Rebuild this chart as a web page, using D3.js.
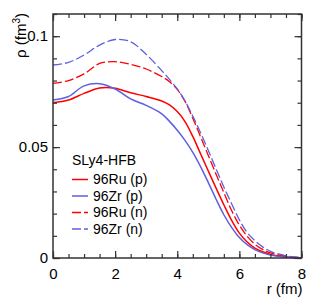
<!DOCTYPE html>
<html>
<head>
<meta charset="utf-8">
<script src="https://cdn.jsdelivr.net/npm/d3@7"></script>
<style>
  body { margin: 0; background: #fff; }
  text { font-family: "Liberation Sans", Arial, sans-serif; fill: #000; }
</style>
</head>
<body>
<script>
// radius grid (fm) and densities (fm^-3)
var radius = [0, 0.5, 1, 1.5, 2, 2.5, 3, 3.5, 3.75, 4, 4.25, 4.5, 4.75, 5, 5.25, 5.5, 5.75, 6, 6.25, 6.5, 6.75, 7, 7.5, 8];
var ruProton  = [0.0700, 0.0712, 0.0742, 0.0766, 0.0765, 0.0745, 0.0728, 0.0708, 0.0690, 0.0660, 0.0615, 0.0548, 0.0470, 0.0392, 0.0315, 0.0240, 0.0170, 0.0112, 0.0072, 0.0045, 0.0028, 0.0016, 0.0005, 0.0001];
var zrProton  = [0.0712, 0.0728, 0.0776, 0.0786, 0.0762, 0.0717, 0.0688, 0.0650, 0.0616, 0.0576, 0.0530, 0.0476, 0.0412, 0.0340, 0.0265, 0.0195, 0.0138, 0.0092, 0.0060, 0.0038, 0.0023, 0.0013, 0.0004, 0.0001];
var ruNeutron = [0.0787, 0.0800, 0.0830, 0.0877, 0.0885, 0.0873, 0.0852, 0.0818, 0.0795, 0.0760, 0.0706, 0.0630, 0.0547, 0.0462, 0.0378, 0.0295, 0.0214, 0.0148, 0.0098, 0.0062, 0.0039, 0.0023, 0.0008, 0.0002];
var zrNeutron = [0.0870, 0.0882, 0.0915, 0.0960, 0.0985, 0.0975, 0.0918, 0.0845, 0.0805, 0.0762, 0.0708, 0.0640, 0.0565, 0.0485, 0.0402, 0.0320, 0.0245, 0.0172, 0.0115, 0.0078, 0.0050, 0.0030, 0.0010, 0.0002];

var xMajor = [0, 2, 4, 6, 8];
var yMajor = [0, 0.05, 0.1];
var yLabels = ['0', '0.05', '0.1'];

var series = [
  { name: '96Ru (p)', values: ruProton,  color: '#ff0000', dash: null },
  { name: '96Zr (p)', values: zrProton,  color: '#5f5fe0', dash: null },
  { name: '96Ru (n)', values: ruNeutron, color: '#ff0000', dash: '9,3' },
  { name: '96Zr (n)', values: zrNeutron, color: '#5f5fe0', dash: '9,3' }
];

var width = 317;
var height = 304;
var plot = { left: 53, top: 14, right: 301.5, bottom: 258 };

var svg = d3.select('body')
            .append('svg')
            .attr('width', width)
            .attr('height', height);

var xScale = d3.scaleLinear()
               .domain([0, 8])
               .range([plot.left, plot.right]);

var yScale = d3.scaleLinear()
               .domain([0, 0.11])
               .range([plot.bottom, plot.top]);

var xMinor = d3.range(0, 8.01, 0.5);
var yMinor = d3.range(0, 0.1101, 0.01);

// curves
var line = d3.line()
             .x(function (d) { return xScale(d[0]); })
             .y(function (d) { return yScale(d[1]); })
             .curve(d3.curveCatmullRom.alpha(0.5));

svg.append('g')
   .selectAll('path')
   .data(series)
   .enter()
   .append('path')
   .attr('d', function (s) { return line(radius.map(function (r, i) { return [r, s.values[i]]; })); })
   .attr('fill', 'none')
   .attr('stroke', function (s) { return s.color; })
   .attr('stroke-width', function (s) { return s.dash ? 1.3 : 1.5; })
   .attr('stroke-dasharray', function (s) { return s.dash; });

// ticks on all four sides, pointing inward
function ticks(axis, transform) {
  var g = svg.append('g').attr('transform', transform).call(axis);
  g.select('.domain').remove();
  g.selectAll('line').attr('stroke', '#333').attr('stroke-width', 1.2);
  g.selectAll('text').attr('font-size', 15).attr('fill', '#000')
   .style('font-family', '"Liberation Sans", Arial, sans-serif');
  return g;
}

ticks(d3.axisBottom(xScale).tickValues(xMinor).tickSize(-4).tickFormat(''), `translate(0,${plot.bottom})`);
ticks(d3.axisBottom(xScale).tickValues(xMajor).tickSize(-7).tickPadding(10).tickFormat(d3.format('d')), `translate(0,${plot.bottom})`);
ticks(d3.axisTop(xScale).tickValues(xMinor).tickSize(-4).tickFormat(''), `translate(0,${plot.top})`);
ticks(d3.axisTop(xScale).tickValues(xMajor).tickSize(-7).tickFormat(''), `translate(0,${plot.top})`);

ticks(d3.axisLeft(yScale).tickValues(yMinor).tickSize(-4).tickFormat(''), `translate(${plot.left},0)`);
ticks(d3.axisLeft(yScale).tickValues(yMajor).tickSize(-7).tickPadding(5)
        .tickFormat(function (d, i) { return yLabels[i]; }), `translate(${plot.left},0)`);
ticks(d3.axisRight(yScale).tickValues(yMinor).tickSize(-4).tickFormat(''), `translate(${plot.right},0)`);
ticks(d3.axisRight(yScale).tickValues(yMajor).tickSize(-7).tickFormat(''), `translate(${plot.right},0)`);

svg.append('rect')
   .attr('x', plot.left)
   .attr('y', plot.top)
   .attr('width', plot.right - plot.left)
   .attr('height', plot.bottom - plot.top)
   .attr('fill', 'none')
   .attr('stroke', '#333')
   .attr('stroke-width', 1.5);

// axis titles
svg.append('text')
   .attr('x', plot.right + 1)
   .attr('y', 294)
   .attr('text-anchor', 'end')
   .attr('font-size', 15)
   .text('r (fm)');

var yTitle = svg.append('text')
   .attr('transform', `translate(26,${plot.top - 1}) rotate(-90)`)
   .attr('text-anchor', 'end')
   .attr('font-size', 15);
yTitle.append('tspan').text('ρ (fm');
yTitle.append('tspan').attr('dy', -6).attr('font-size', 10).text('3');
yTitle.append('tspan').attr('dy', 6).text(')');

// legend
var legend = svg.append('g').attr('transform', 'translate(72,165)');
legend.append('text')
      .attr('x', 0)
      .attr('y', 0)
      .attr('font-size', 14)
      .text('SLy4-HFB');

var rows = legend.selectAll('g.row')
                 .data(series)
                 .enter()
                 .append('g')
                 .attr('class', 'row')
                 .attr('transform', function (d, i) { return `translate(0,${14.5 + i * 16.5})`; });

rows.append('line')
    .attr('x1', 0)
    .attr('x2', 16)
    .attr('stroke', function (s) { return s.color; })
    .attr('stroke-width', function (s) { return s.dash ? 1.3 : 1.5; })
    .attr('stroke-dasharray', function (s) { return s.dash; });

rows.append('text')
    .attr('x', 21)
    .attr('y', 4.5)
    .attr('font-size', 14)
    .text(function (s) { return s.name; });
</script>
</body>
</html>
